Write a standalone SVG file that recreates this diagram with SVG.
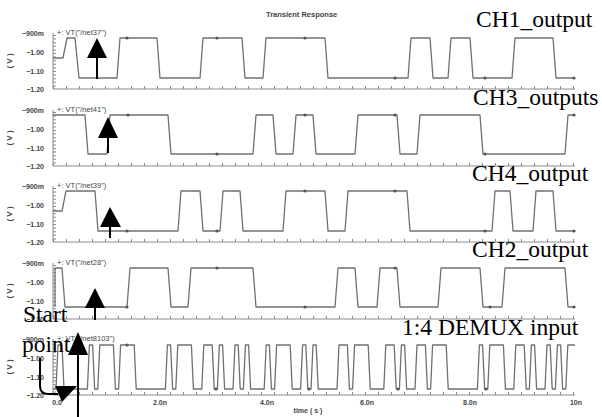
<svg xmlns="http://www.w3.org/2000/svg" width="602" height="417" viewBox="0 0 602 417">
<defs>
<style>
.wave{fill:none;stroke:#707070;stroke-width:1.3;stroke-linejoin:round}
.ax{stroke:#8a8a8a;stroke-width:1;fill:none}
.tk{stroke:#8a8a8a;stroke-width:3;stroke-dasharray:1 12;fill:none}
.vtk{stroke:#8a8a8a;stroke-width:3;stroke-dasharray:1 2.6;fill:none}
.yl{font-family:"Liberation Sans",Arial,sans-serif;font-size:7px;font-weight:bold;fill:#444;text-anchor:end}
.sn{font-family:"Liberation Sans",Arial,sans-serif;font-size:7.5px;fill:#444}
.xl{font-family:"Liberation Sans",Arial,sans-serif;font-size:7px;font-weight:bold;fill:#444;text-anchor:middle}
.vl{font-family:"Liberation Sans",Arial,sans-serif;font-size:8px;font-weight:bold;fill:#444;text-anchor:middle}
.big{font-family:"Liberation Serif","Times New Roman",serif;font-size:23.5px;fill:#000}
.arr{fill:#000;stroke:none}
.stem{stroke:#000;stroke-width:2;fill:none}
.dot{fill:#555}
</style>
<g id="axes">
<line class="ax" x1="53" y1="0" x2="575" y2="0"/>
<line class="tk" x1="53" y1="-1.5" x2="576" y2="-1.5"/>
<line class="ax" x1="53" y1="-56" x2="53" y2="0"/>
<line class="vtk" x1="54.5" y1="-54" x2="54.5" y2="0"/>
<text class="yl" x="44" y="-53">−900m</text>
<text class="yl" x="44" y="-34">−1.00</text>
<text class="yl" x="44" y="-15">−1.10</text>
<text class="yl" x="44" y="2.5">−1.20</text>
<text class="vl" transform="translate(12,-28) rotate(-90)">( V )</text>
</g>
</defs>

<text x="266" y="17" font-family="Liberation Sans,Arial,sans-serif" font-size="7.5" font-weight="bold" fill="#444">Transient Response</text>

<g id="panel1">
<use href="#axes" x="0" y="89"/>
<text class="sn" x="57" y="35">+: VT("/net37")</text>
<path class="wave" d="M53,58 L63,58 L67,38 L75,38 L79,78 L117,78 L120,38 L157,38 L160,78 L200,78 L203,38 L242,38 L245,78 L263,78 L266,38 L325,38 L328,78 L408,78 L411,38 L430,38 L433,78 L448,78 L451,38 L470,38 L473,78 L512,78 L515,38 L553,38 L556,78 L575,78"/>
<circle class="dot" cx="127" cy="38" r="1.6"/><circle class="dot" cx="217" cy="38" r="1.6"/><circle class="dot" cx="305" cy="38" r="1.6"/><circle class="dot" cx="395" cy="78" r="1.6"/><circle class="dot" cx="485" cy="78" r="1.6"/><circle class="dot" cx="574" cy="78" r="1.6"/>
<text class="big" x="476" y="27">CH1_output</text>
</g>

<g id="panel2">
<use href="#axes" x="0" y="166"/>
<text class="sn" x="57" y="112">+: VT("/net41")</text>
<path class="wave" d="M53,115 L85,115 L88,154 L107,154 L110,115 L168,115 L171,154 L253,154 L256,115 L273,115 L276,154 L293,154 L296,115 L313,115 L316,154 L355,154 L358,115 L397,115 L400,154 L417,154 L420,115 L480,115 L483,154 L565,154 L568,115 L575,115"/>
<circle class="dot" cx="128" cy="115" r="1.6"/><circle class="dot" cx="217" cy="154" r="1.6"/><circle class="dot" cx="305" cy="115" r="1.6"/><circle class="dot" cx="395" cy="115" r="1.6"/><circle class="dot" cx="485" cy="154" r="1.6"/><circle class="dot" cx="574" cy="115" r="1.6"/>
<text class="big" x="473" y="105">CH3_outputs</text>
</g>

<g id="panel3">
<use href="#axes" x="0" y="242"/>
<text class="sn" x="57" y="188">+: VT("/net39")</text>
<path class="wave" d="M53,211 L62,211 L66,191 L95,191 L98,231 L178,231 L181,191 L200,191 L203,231 L220,231 L223,191 L240,191 L243,231 L283,231 L286,191 L325,191 L328,231 L345,231 L348,191 L407,191 L410,231 L492,231 L495,191 L510,191 L513,231 L533,231 L536,191 L553,191 L556,231 L575,231"/>
<circle class="dot" cx="127" cy="231" r="1.6"/><circle class="dot" cx="217" cy="231" r="1.6"/><circle class="dot" cx="305" cy="191" r="1.6"/><circle class="dot" cx="395" cy="191" r="1.6"/><circle class="dot" cx="485" cy="231" r="1.6"/><circle class="dot" cx="574" cy="231" r="1.6"/>
<text class="big" x="472" y="181">CH4_output</text>
</g>

<g id="panel4">
<use href="#axes" x="0" y="319"/>
<text class="sn" x="57" y="265">+: VT("/net28")</text>
<path class="wave" d="M55,307 L55,268 L62,268 L65,307 L127,307 L130,268 L168,268 L171,307 L188,307 L191,268 L253,268 L256,307 L335,307 L338,268 L355,268 L358,307 L377,307 L380,268 L397,268 L400,307 L438,307 L441,268 L480,268 L483,307 L502,307 L505,268 L565,268 L568,307 L575,307"/>
<circle class="dot" cx="127" cy="307" r="1.6"/><circle class="dot" cx="217" cy="268" r="1.6"/><circle class="dot" cx="305" cy="307" r="1.6"/><circle class="dot" cx="395" cy="268" r="1.6"/><circle class="dot" cx="490" cy="307" r="1.6"/><circle class="dot" cx="574" cy="307" r="1.6"/>
<text class="big" x="472" y="257">CH2_output</text>
</g>

<g id="panel5">
<use href="#axes" x="0" y="395"/>
<text class="sn" x="57" y="341">+: VT("/net8103")</text>
<path class="wave" d="M53,389 L56,389 L58,345 L62,345 L64,389 L87.4,389 L89.4,345 L92.6,345 L94.6,389 L97.8,389 L99.8,345 L113.4,345 L115.4,389 L118.6,389 L120.6,345 L134.2,345 L136.2,389 L165.4,389 L167.4,345 L170.6,345 L172.6,389 L175.8,389 L177.8,345 L191.4,345 L193.4,389 L201.8,389 L203.8,345 L212.2,345 L214.2,389 L217.4,389 L219.4,345 L222.6,345 L224.6,389 L233,389 L235,345 L238.2,345 L240.2,389 L243.4,389 L245.4,345 L248.6,345 L250.6,389 L264.2,389 L266.2,345 L269.4,345 L271.4,389 L274.6,389 L276.6,345 L290.2,345 L292.2,389 L300.6,389 L302.6,345 L305.8,345 L307.8,389 L311,389 L313,345 L316.2,345 L318.2,389 L337,389 L339,345 L347.4,345 L349.4,389 L352.6,389 L354.6,345 L368.2,345 L370.2,389 L383.8,389 L385.8,345 L394.2,345 L396.2,389 L399.4,389 L401.4,345 L404.6,345 L406.6,389 L415,389 L417,345 L425.4,345 L427.4,389 L430.6,389 L432.6,345 L446.2,345 L448.2,389 L477.4,389 L479.4,345 L482.6,345 L484.6,389 L487.8,389 L489.8,345 L503.4,345 L505.4,389 L513.8,389 L515.8,345 L524.2,345 L526.2,389 L529.4,389 L531.4,345 L534.6,345 L536.6,389 L545,389 L547,345 L550.2,345 L552.2,389 L555.4,389 L557.4,345 L560.6,345 L562.6,389 L565.8,389 L567.8,345 L575,345"/>
<circle class="dot" cx="127" cy="345" r="1.6"/><circle class="dot" cx="216" cy="389" r="1.6"/><circle class="dot" cx="309" cy="389" r="1.6"/><circle class="dot" cx="398" cy="389" r="1.6"/><circle class="dot" cx="486" cy="389" r="1.6"/>
<text class="big" x="402" y="335">1:4 DEMUX input</text>
<text x="57" y="405" class="xl">0.0</text>
<text x="160" y="405" class="xl">2.0n</text>
<text x="267" y="405" class="xl">4.0n</text>
<text x="367" y="405" class="xl">6.0n</text>
<text x="470" y="405" class="xl">8.0n</text>
<text x="576" y="405" class="xl">10n</text>
<text x="308" y="413" class="xl">time ( s )</text>
</g>

<g id="annotations">
<polygon class="arr" points="97,38 87,58 107,58"/>
<line class="stem" x1="97" y1="57" x2="97" y2="79"/>
<polygon class="arr" points="108,117 98,138 118,138"/>
<line class="stem" x1="108" y1="137" x2="108" y2="153"/>
<polygon class="arr" points="110,207 100,227 121,227"/>
<line class="stem" x1="110" y1="226" x2="110" y2="238"/>
<polygon class="arr" points="95,288 85,308 105,308"/>
<line class="stem" x1="95" y1="307" x2="95" y2="320"/>
<polygon class="arr" points="78,332 68,355 88,355"/>
<line class="stem" x1="78" y1="354" x2="78" y2="417"/>
<path class="stem" d="M40,358 L40,386 Q40,394 48,394 L58,394"/>
<polygon class="arr" points="77,386 55,386 62,402"/>
<text class="big" x="23" y="322">Start</text>
<text class="big" x="22" y="352">point</text>
</g>
</svg>
